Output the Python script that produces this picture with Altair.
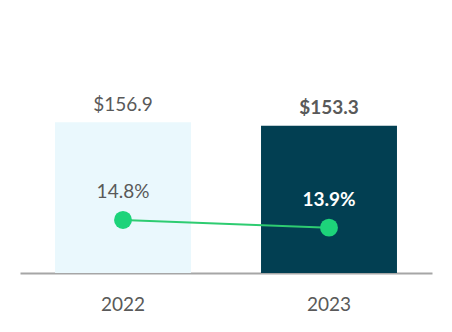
import altair as alt
import pandas as pd

years = ["2022", "2023"]
revenue = [156.9, 153.3]
margin = [14.8, 13.9]
rev_labels = ["$156.9", "$153.3"]
pct_labels = ["14.8%", "13.9%"]
bar_colors = ["#EAF8FD", "#023F52"]

df = pd.DataFrame({
    "year": years,
    "revenue": revenue,
    "margin": margin,
    "rev_label": rev_labels,
    "pct_label": pct_labels,
})

FONT = "Lato"
GREY = "#595959"

x = alt.X("year:N", title=None,
          scale=alt.Scale(paddingInner=0.34, paddingOuter=0.17),
          axis=alt.Axis(labelAngle=0, ticks=False, domainColor="#A6A6A6", domainWidth=2,
                        labelFont=FONT, labelFontSize=19, labelColor=GREY,
                        labelBaseline="alphabetic", labelPadding=37, grid=False))
yb = alt.Y("revenue:Q", scale=alt.Scale(domain=[0, 284]), axis=None)
yl = alt.Y("margin:Q", scale=alt.Scale(domain=[8.6, 40.5]), axis=None)

base = alt.Chart(df)

bars = base.mark_bar().encode(
    x=x, y=yb,
    color=alt.Color("year:N", scale=alt.Scale(domain=years, range=bar_colors), legend=None),
)

rev_text_1 = base.transform_filter(alt.datum.year == "2022").mark_text(
    font=FONT, fontSize=19, color=GREY, baseline="alphabetic", dy=-11
).encode(x=x, y=yb, text="rev_label:N")

rev_text_2 = base.transform_filter(alt.datum.year == "2023").mark_text(
    font=FONT, fontSize=19, fontWeight="bold", color=GREY, baseline="alphabetic", dy=-12
).encode(x=x, y=yb, text="rev_label:N")

line = base.mark_line(color="#2ECC71", strokeWidth=2).encode(x=x, y=yl)
points = base.mark_point(filled=True, size=320, color="#1DD37A", opacity=1).encode(x=x, y=yl)

pct_text_1 = base.transform_filter(alt.datum.year == "2022").mark_text(
    font=FONT, fontSize=19, color=GREY, baseline="alphabetic", dy=-22
).encode(x=x, y=yl, text="pct_label:N")

pct_text_2 = base.transform_filter(alt.datum.year == "2023").mark_text(
    font=FONT, fontSize=19, fontWeight="bold", color="#FFFFFF", baseline="alphabetic", dy=-22
).encode(x=x, y=yl, text="pct_label:N")

chart = alt.layer(
    bars, rev_text_1, rev_text_2, line, points, pct_text_1, pct_text_2
).resolve_scale(y="independent").properties(
    width=412, height=273,
    autosize=alt.AutoSizeParams(type="none"),
    padding={"left": 20, "right": 20, "top": 0, "bottom": 59},
).configure(background="white").configure_view(stroke=None, strokeWidth=0)

chart.save("out.html", embed_options={"renderer": "svg", "actions": False})
